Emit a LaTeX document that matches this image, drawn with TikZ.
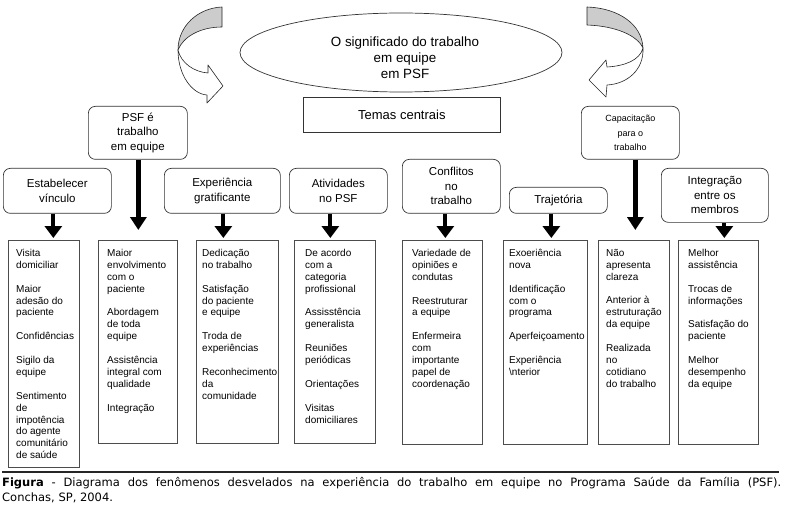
\documentclass[tikz,border=0pt]{standalone}
\usepackage{fontspec}
\setmainfont{Liberation Sans}
\newfontfamily\capfont{DejaVu Sans}
\usetikzlibrary{shapes.geometric,arrows.meta}
\begin{document}
\begin{tikzpicture}[x=1pt,y=-1pt,
  hdr/.style={draw=black!80, line width=0.7pt, rounded corners=7pt, anchor=north west, inner sep=0pt, align=center, font=\fontsize{11.5}{14.5}\selectfont},
  bodybox/.style={draw=black!70, line width=0.7pt, anchor=north west, inner sep=0pt},
  btext/.style={anchor=north west, inner sep=0pt, align=left, font=\fontsize{10}{11.9}\selectfont},
  arr/.style={line width=4pt, -{Triangle[width=17pt,length=12pt]}, shorten >=2pt},
  tarr/.style={line width=5pt, -{Triangle[width=16pt,length=13pt]}, shorten >=10pt},
  curv/.style={draw=black!85, line width=0.6pt, line join=round}
]
\useasboundingbox (0,0) rectangle (785,508);

% curved arrows
\filldraw[curv, fill=gray!40] (222,7) -- (222,27) .. controls (200,27) and (183,37) .. (178,50) .. controls (178,26) and (198,8) .. (222,7) -- cycle;
\filldraw[curv, fill=white] (178,50) .. controls (178,75) and (192,94) .. (207,95) -- (207,103) -- (223,86) -- (208,65) -- (208,73) .. controls (194,72) and (181,63) .. (178,50) -- cycle;
\filldraw[curv, fill=gray!40] (587,7) -- (587,25) .. controls (615,26) and (637,35) .. (643,48) .. controls (642,24) and (618,8) .. (587,7) -- cycle;
\filldraw[curv, fill=white] (643,48) .. controls (644,70) and (627,84) .. (607,85) -- (606,97) -- (589,80) -- (606,60) -- (607,67) .. controls (625,66) and (640,60) .. (643,48) -- cycle;

% title ellipse and central box
\node[draw=black!80, line width=0.7pt, ellipse, minimum width=322, minimum height=79, inner sep=0pt] (el) at (401,52.5) {};
\node[align=center, inner sep=0pt, font=\fontsize{13.4}{16}\selectfont] (elt) at (405,58) {O significado do trabalho\\em equipe\\em PSF};
\node[draw=black!80, line width=0.7pt, anchor=north west, inner sep=0pt, minimum width=197, minimum height=35, font=\fontsize{13}{15}\selectfont] (tc) at (303,97) {Temas centrais};

% headers
\node[hdr, minimum width=108, minimum height=45] (h1) at (3,168) {Estabelecer\\vínculo};
\node[hdr, minimum width=99, minimum height=53] (h2) at (88,106) {PSF é\\trabalho\\em equipe};
\node[hdr, minimum width=116, minimum height=45] (h3) at (164,168) {Experiência\\gratificante};
\node[hdr, minimum width=98, minimum height=45] (h4) at (289,168) {Atividades\\no PSF};
\node[hdr, minimum width=98, minimum height=54] (h5) at (402,159) {Conflitos\\no\\trabalho};
\node[hdr, minimum width=98, minimum height=26] (h6) at (509,187) {Trajetória};
\node[hdr, minimum width=98, minimum height=53, font=\fontsize{9}{14.5}\selectfont] (h7) at (581,106) {Capacitação\\para o\\trabalho};
\node[hdr, minimum width=107, minimum height=54] (h8) at (661,168) {Integração\\entre os\\membros};

% body boxes
\node[bodybox, minimum width=71, minimum height=227] (b1) at (8,240) {};
\node[bodybox, minimum width=79, minimum height=203] (b2) at (98,240) {};
\node[bodybox, minimum width=82, minimum height=203] (b3) at (196,240) {};
\node[bodybox, minimum width=81, minimum height=203] (b4) at (294,240) {};
\node[bodybox, minimum width=80, minimum height=204] (b5) at (402,240) {};
\node[bodybox, minimum width=84, minimum height=204] (b6) at (503,240) {};
\node[bodybox, minimum width=71, minimum height=204] (b7) at (598,240) {};
\node[bodybox, minimum width=80, minimum height=204] (b8) at (678,240) {};

% body texts
\node[btext] (t1) at (16,249) {Visita\\domiciliar\\[11.9pt]Maior\\adesão do\\paciente\\[11.9pt]Confidências\\[11.9pt]Sigilo da\\equipe\\[11.9pt]Sentimento\\de\\impotência\\do agente\\comunitário\\de saúde};
\node[btext] (t2) at (107,249) {Maior\\envolvimento\\com o\\paciente\\[11.9pt]Abordagem\\de toda\\equipe\\[11.9pt]Assistência\\integral com\\qualidade\\[11.9pt]Integração};
\node[btext] (t3) at (202,249) {Dedicação\\no trabalho\\[11.9pt]Satisfação\\do paciente\\e equipe\\[11.9pt]Troda de\\experiências\\[11.9pt]Reconhecimento\\da\\comunidade};
\node[btext] (t4) at (305,249) {De acordo\\com a\\categoria\\profissional\\[11.9pt]Assisstência\\generalista\\[11.9pt]Reuniões\\periódicas\\[11.9pt]Orientações\\[11.9pt]Visitas\\domiciliares};
\node[btext] (t5) at (412,249) {Variedade de\\opiniões e\\condutas\\[11.9pt]Reestruturar\\a equipe\\[11.9pt]Enfermeira\\com\\importante\\papel de\\coordenação};
\node[btext] (t6) at (509,249) {Exoeriência\\nova\\[11.9pt]Identificação\\com o\\programa\\[11.9pt]Aperfeiçoamento\\[11.9pt]Experiência\\\textbackslash nterior};
\node[btext] (t7) at (606,249) {Não\\apresenta\\clareza\\[11.9pt]Anterior à\\estruturação\\da equipe\\[11.9pt]Realizada\\no\\cotidiano\\do trabalho};
\node[btext] (t8) at (688,249) {Melhor\\assistência\\[11.9pt]Trocas de\\informações\\[11.9pt]Satisfação do\\paciente\\[11.9pt]Melhor\\desempenho\\da equipe};

% arrows
\draw[arr] ([xshift=-4pt]h1.south) -- ([xshift=-4pt]h1.south |- b1.north);
\draw[tarr] ([xshift=0.5pt]h2.south) -- ([xshift=0.5pt]h2.south |- b2.north);
\draw[arr] ([xshift=1pt]h3.south) -- ([xshift=1pt]h3.south |- b3.north);
\draw[arr] ([xshift=-8pt]h4.south) -- ([xshift=-8pt]h4.south |- b4.north);
\draw[arr] ([xshift=-6pt]h5.south) -- ([xshift=-6pt]h5.south |- b5.north);
\draw[arr] ([xshift=-7pt]h6.south) -- ([xshift=-7pt]h6.south |- b6.north);
\draw[tarr] ([xshift=5pt]h7.south) -- ([xshift=5pt]h7.south |- b7.north);
\draw[arr] ([xshift=9.5pt]h8.south) -- ([xshift=9.5pt]h8.south |- b8.north);

% caption
\draw[line width=1.3pt, black!85] (2,472) -- (779,472);
\node[anchor=base west, inner sep=0pt, font=\capfont\fontsize{11.5}{15}\selectfont] (cap1) at (2,486) {\makebox[779pt][s]{\textbf{Figura} - Diagrama dos fenômenos desvelados na experiência do trabalho em equipe no Programa Saúde da Família (PSF).}};
\node[anchor=base west, inner sep=0pt, font=\capfont\fontsize{11.5}{15}\selectfont] (cap2) at (2,501) {Conchas, SP, 2004.};
\end{tikzpicture}
\end{document}
